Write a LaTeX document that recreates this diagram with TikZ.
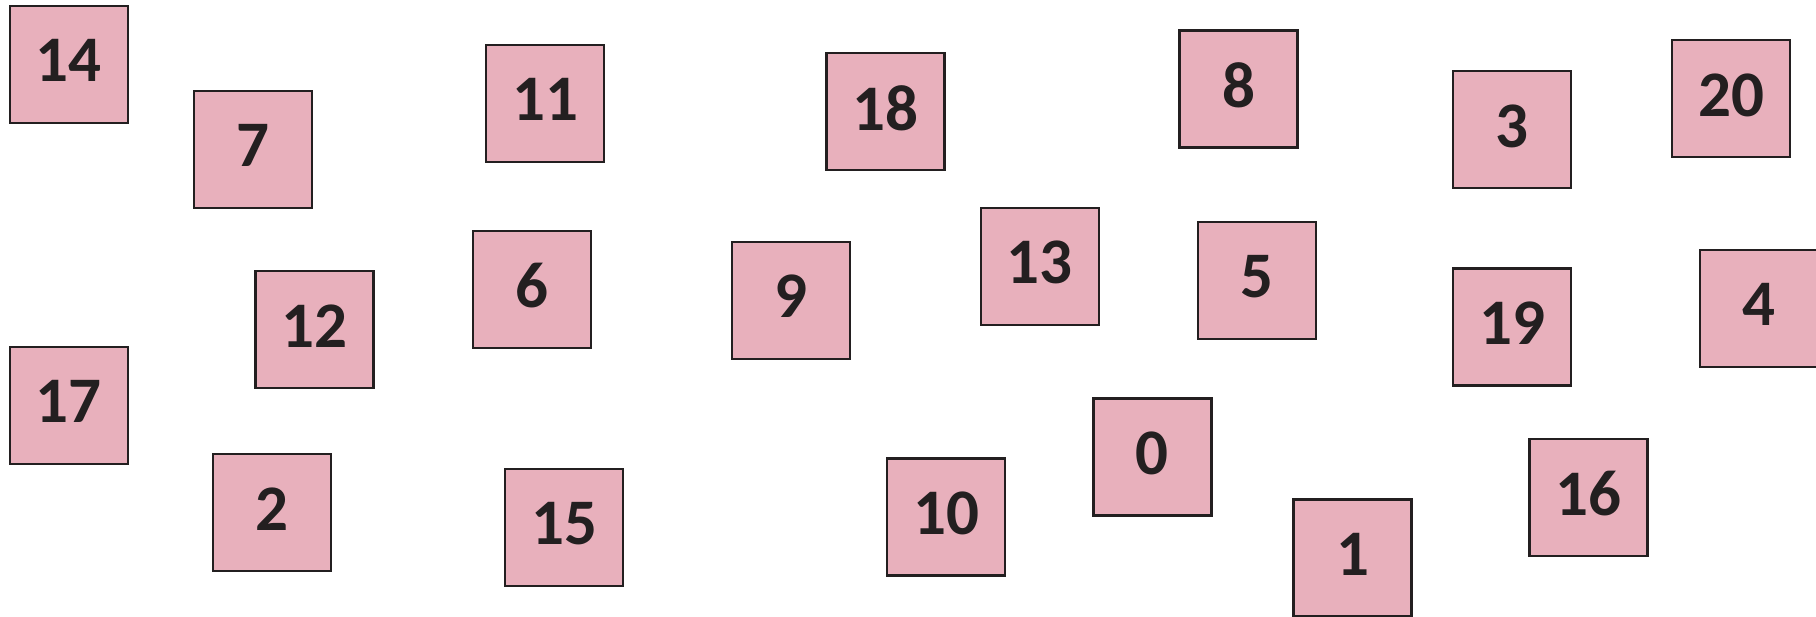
\documentclass[tikz,border=0pt]{standalone}
\usepackage{fontspec}
\setmainfont{Carlito}
\usepackage{xcolor}
\usepackage{tikz}
\definecolor{rosa}{HTML}{E8B0BC}
\definecolor{tinta}{HTML}{231F20}
\tikzset{
  every picture/.style={font=\bfseries\fontsize{65}{70}\selectfont},
  tarjeta/.style={draw=tinta, text=tinta, fill=rosa, line width=2.2pt,
                  minimum width=118pt, minimum height=117pt, inner sep=0pt,
                  text depth=8pt},
}
\begin{document}
\begin{tikzpicture}[x=1pt, y=-1pt]
  \useasboundingbox (0,0) rectangle (1816,617);
  \clip (0,0) rectangle (1816,617);
  \node[tarjeta] (n14) at (68.6,64.3) {14};
  \node[tarjeta] (n7) at (253,149.5) {7};
  \node[tarjeta] (n11) at (545.3,103.2) {11};
  \node[tarjeta] (n6) at (532,289.5) {6};
  \node[tarjeta] (n12) at (314.4,329.8) {12};
  \node[tarjeta] (n18) at (885.5,111.8) {18};
  \node[tarjeta] (n8) at (1238.5,89) {8};
  \node[tarjeta] (n9) at (791,300.5) {9};
  \node[tarjeta] (n13) at (1039.7,266.5) {13};
  \node[tarjeta] (n5) at (1257,280.7) {5};
  \node[tarjeta] (n3) at (1512,129.7) {3};
  \node[tarjeta] (n20) at (1731,98.7) {20};
  \node[tarjeta] (n19) at (1512,327) {19};
  \node[tarjeta] (n4) at (1759,308.5) {4};
  \node[tarjeta] (n17) at (68.6,405.7) {17};
  \node[tarjeta] (n2) at (271.7,512.7) {2};
  \node[tarjeta] (n15) at (564,527.7) {15};
  \node[tarjeta] (n10) at (946,517) {10};
  \node[tarjeta] (n0) at (1152.4,457) {0};
  \node[tarjeta] (n1) at (1352.5,558) {1};
  \node[tarjeta] (n16) at (1588.5,497.3) {16};
\end{tikzpicture}
\end{document}
